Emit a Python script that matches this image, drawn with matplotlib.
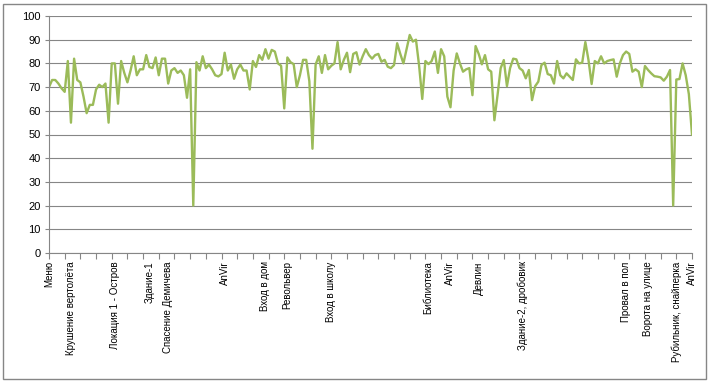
import matplotlib
matplotlib.use("Agg")
import matplotlib.pyplot as plt
from matplotlib.patches import Rectangle

# fps-like values, one per category
values = [
    70, 73, 73, 71.5, 69.5, 68, 81, 55, 82, 73,
    72, 66, 59, 62.5, 62.5, 69, 71, 70, 71.5, 55,
    80, 80, 63, 81, 76, 72, 77, 83, 75, 77.5,
    77.5, 83.5, 78.5, 78, 82.5, 75, 82, 82, 71.5, 77,
    78, 76, 77, 75, 65.5, 77.5, 20, 80.5, 77, 83,
    78, 79.5, 77.5, 75, 74.5, 75.5, 84.5, 77, 79.5, 73.5,
    77.5, 79.5, 77, 77, 69, 81, 78.5, 83.5, 81.5, 86,
    82, 85.7, 85, 80, 79, 61, 82.5, 80.5, 79.7, 70,
    75, 81.5, 81.5, 72.5, 44, 79.5, 83, 76, 83.5, 77.5,
    79, 80, 89, 77.5, 81.5, 84.5, 76.3, 84, 84.7, 79.5,
    83, 86, 83.5, 82, 83.5, 84, 80.7, 81.5, 78.6, 78,
    79.3, 88.5, 84, 80, 86, 92, 89.2, 90, 79, 65,
    81, 79.7, 81, 85, 76, 86, 83, 66, 61.5, 77,
    84.2, 80, 76.5, 77.5, 78, 66.6, 87.3, 84, 79.6, 83.5,
    77.5, 76.5, 56, 66.6, 78, 81.4, 70.4, 78, 82, 81.7,
    78, 77, 73.7, 77.2, 64.5, 70.4, 72.3, 79.3, 80.3, 75.5,
    75, 71.5, 81, 75, 73.7, 75.8, 74.4, 73, 81.7, 80,
    80.3, 89, 81.4, 71.3, 81, 80, 83, 80, 81, 81.4,
    81.7, 74.4, 80, 83.5, 85, 84, 76.5, 77.5, 76.5, 70,
    78.9, 77.2, 75.8, 74.6, 74.4, 74.1, 72.7, 74.4, 77.2, 20,
    73.2, 73.4, 80, 75, 67, 50,
]

label_names = ["Меню", "Крушение вертолёта", "Локация 1 - Остров", "Здание-1",
               "Спасение Демичева", "AnVir", "Вход в дом", "Револьвер",
               "Вход в школу", "Библиотека", "AnVir", "Девлин",
               "Здание-2, дробовик", "Провал в пол", "Ворота на улице",
               "Рубильник, снайперка", "AnVir"]
label_idx = [0, 7, 21, 32, 38, 56, 69, 76, 90, 121, 128, 137, 151, 184, 191, 200, 205]

n = len(values)
x = list(range(n))

plt.rcParams['font.family'] = ['Liberation Sans', 'DejaVu Sans']
fig = plt.figure(figsize=(7.1, 3.82), dpi=100)
ax = fig.add_axes([49/710, 1 - 253/382, (692-49)/710, (253-16)/382])

gray = '#868686'
ax.plot(x, values, color='#9BBB59', lw=1.7, solid_joinstyle='round')

ax.set_xlim(0, n - 1)
ax.set_ylim(0, 100)
ax.set_yticks(range(0, 101, 10))
ax.yaxis.grid(True, color=gray, lw=0.8)
ax.set_axisbelow(True)

# tick marks every 5 categories, labels only at the named points
ax.xaxis.remove_overlapping_locs = False
ax.set_xticks(range(0, n, 5))
ax.set_xticklabels([])
ax.set_xticks(label_idx, minor=True)
ax.set_xticklabels(label_names, minor=True, rotation=90, ha='center', va='top')

ax.tick_params(axis='x', which='major', length=4, color=gray, width=0.8)
ax.tick_params(axis='x', which='minor', length=0, pad=6, labelsize=7)
ax.tick_params(axis='y', length=3, color=gray, width=0.8, labelsize=8, pad=3)

for s in ['top', 'right']:
    ax.spines[s].set_visible(False)
for s in ['left', 'bottom']:
    ax.spines[s].set_color(gray)
    ax.spines[s].set_linewidth(0.8)

fig.patches.append(Rectangle((3/710, 3/382), 703/710, 375/382, transform=fig.transFigure,
                             fill=False, edgecolor=gray, lw=1))

fig.savefig('out.png', dpi=100)
